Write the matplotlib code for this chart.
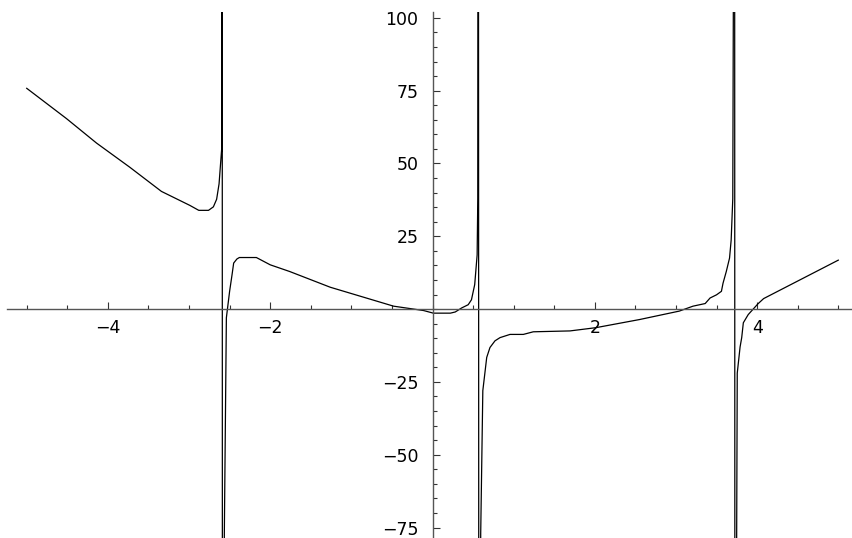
import numpy as np
import matplotlib
matplotlib.use("Agg")
import matplotlib.pyplot as plt
from matplotlib.ticker import MultipleLocator, FixedLocator

# points (one polyline, jumps included)
branch1_x = [-5.0, -4.51, -4.14, -3.73, -3.34, -2.99, -2.88, -2.76, -2.70, -2.66, -2.63, -2.597, -2.592]
branch1_y = [75.8, 65.4, 57.0, 48.7, 40.4, 35.6, 33.9, 33.9, 35.1, 37.7, 43.0, 55.3, 250]

branch2_x = [-2.588, -2.565, -2.54, -2.50, -2.47, -2.45, -2.41, -2.38, -2.17, -2.00, -1.76, -1.26,
             -0.48, -0.11, 0.01, 0.22, 0.28, 0.36, 0.44, 0.48, 0.52, 0.55, 0.558, 0.565]
branch2_y = [-250, -77, -3.0, 6.1, 11.8, 15.8, 17.2, 17.7, 17.7, 15.2, 12.9, 7.5,
             1.0, -0.5, -1.4, -1.4, -1.0, 0.4, 1.5, 3.2, 8.4, 18.6, 38.0, 250]

branch3_x = [0.572, 0.594, 0.62, 0.668, 0.708, 0.77, 0.832, 0.955, 1.119, 1.242, 1.694, 2.01,
             2.55, 3.04, 3.21, 3.36, 3.42, 3.50, 3.56, 3.58, 3.62, 3.66, 3.68, 3.70, 3.722]
branch3_y = [-250, -77, -28, -16.6, -13.2, -10.9, -9.8, -8.7, -8.7, -7.8, -7.5, -6.4,
             -3.6, -0.7, 1.0, 1.9, 3.8, 4.9, 6.1, 8.9, 12.9, 17.5, 23.7, 37.9, 250]

branch4_x = [3.727, 3.748, 3.755, 3.79, 3.81, 3.83, 3.89, 4.01, 4.08, 4.77, 5.0]
branch4_y = [-250, -77, -22, -13, -9.8, -4.7, -1.9, 1.8, 3.6, 13.5, 16.8]

x = branch1_x + branch2_x + branch3_x + branch4_x
y = branch1_y + branch2_y + branch3_y + branch4_y

x_labels = [-4, -2, 2, 4]
y_labels = [-75, -50, -25, 25, 50, 75, 100]

fig = plt.figure(figsize=(8.52, 5.38), dpi=100)
ax = fig.add_axes([7/852, 0, 845/852, 526/538])

ax.plot(x, y, color="black", lw=0.9)

ax.set_xlim(-5.243, 5.169)
ax.set_ylim(-78.6, 102.0)

# axes through the origin, mathematica style
for s in ["top", "right"]:
    ax.spines[s].set_visible(False)
ax.spines["left"].set_position(("data", 0))
ax.spines["bottom"].set_position(("data", 0))
for s in ["left", "bottom"]:
    ax.spines[s].set_color("#555555")
    ax.spines[s].set_linewidth(1.0)

ax.xaxis.set_major_locator(FixedLocator(x_labels))
ax.xaxis.set_minor_locator(MultipleLocator(0.5))
ax.yaxis.set_major_locator(FixedLocator(y_labels))
ax.yaxis.set_minor_locator(MultipleLocator(5))

ax.tick_params(axis="x", which="major", direction="in", length=5, width=0.8,
               color="#333333", labelsize=12.5, pad=7)
ax.tick_params(axis="x", which="minor", direction="in", length=3.2, width=0.8, color="#333333")
ax.tick_params(axis="y", which="major", direction="in", length=4.8, width=0.8,
               color="#333333", labelsize=12.5, pad=10)
ax.tick_params(axis="y", which="minor", direction="in", length=2.9, width=0.8, color="#333333")

ax.set_facecolor("white")
fig.savefig("out.png", dpi=100, facecolor="white")
